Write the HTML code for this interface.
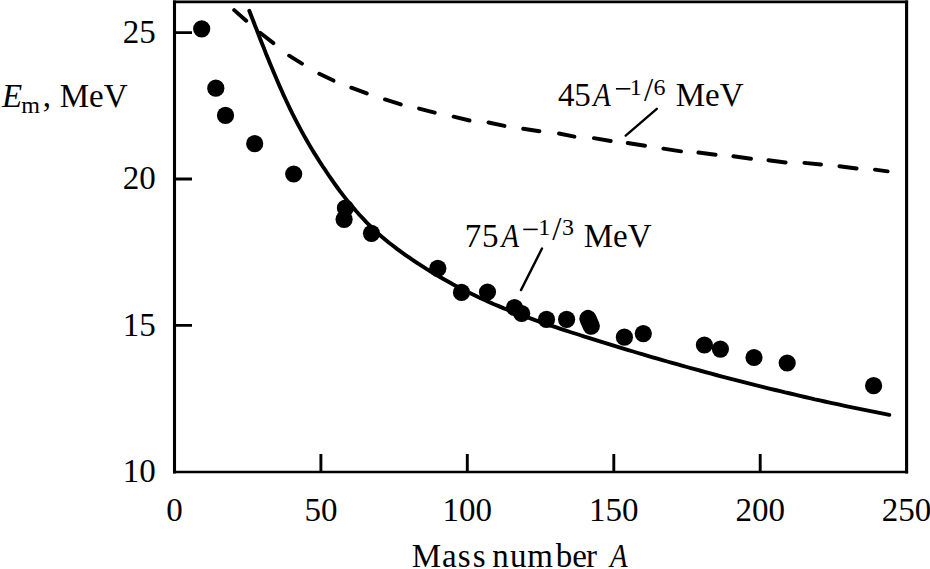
<!DOCTYPE html>
<html><head><meta charset="utf-8"><style>
html,body{margin:0;padding:0;background:#fff;overflow:hidden;}
svg{display:block;}
text{font-family:"Liberation Serif",serif;fill:#000;}
</style></head><body>
<svg width="930" height="569" viewBox="0 0 930 569">
<path d="M174.5,0.5 V473.4 M906.6,0.5999999999999999 V473.4" stroke="#000" stroke-width="3.1" fill="none"/>
<path d="M173.0,1.9 H908.1 M173.0,472.0 H908.1" stroke="#000" stroke-width="2.6" fill="none"/>
<path d="M320.9,472.0 V453.9 M467.3,472.0 V453.9 M613.8,472.0 V453.9 M760.2,472.0 V453.9 M174.5,325.4 H192.0 M174.5,179.0 H192.0 M174.5,32.6 H192.0 " stroke="#000" stroke-width="2.9" fill="none"/>
<path d="M249.3,10.8 L251.1,15.5 L253.0,20.2 L254.8,25.0 L256.7,29.7 L258.5,34.5 L260.3,39.2 L262.2,43.9 L264.1,48.6 L265.9,53.4 L267.8,58.1 L269.7,62.8 L271.7,67.5 L273.6,72.1 L275.6,76.8 L277.6,81.5 L279.6,86.1 L281.7,90.7 L283.7,95.4 L285.9,100.0 L288.0,104.5 L290.2,109.1 L292.4,113.7 L294.7,118.2 L297.0,122.7 L299.4,127.2 L301.8,131.6 L304.3,136.1 L306.8,140.5 L309.3,144.9 L311.9,149.3 L314.6,153.6 L317.3,157.9 L320.0,162.2 L322.8,166.5 L325.7,170.7 L328.5,175.0 L331.4,179.2 L334.3,183.3 L337.3,187.5 L340.3,191.6 L343.4,195.6 L346.5,199.6 L349.7,203.6 L353.0,207.4 L356.3,211.3 L359.6,215.0 L363.1,218.7 L366.5,222.4 L370.1,225.9 L373.7,229.4 L377.4,232.9 L381.2,236.2 L385.1,239.5 L389.0,242.7 L393.0,245.8 L397.0,248.9 L401.1,251.9 L405.2,254.8 L409.4,257.7 L413.6,260.6 L417.8,263.4 L422.1,266.1 L426.4,268.9 L430.7,271.5 L435.1,274.2 L439.5,276.8 L443.9,279.3 L448.4,281.8 L452.8,284.3 L457.3,286.7 L461.8,289.0 L466.4,291.3 L470.9,293.6 L475.5,295.8 L480.1,298.0 L484.7,300.1 L489.3,302.1 L494.0,304.2 L498.7,306.1 L503.3,308.1 L508.0,310.0 L512.8,311.8 L517.5,313.6 L522.2,315.4 L527.0,317.2 L531.7,318.9 L536.5,320.6 L541.3,322.3 L546.1,324.0 L550.9,325.6 L555.7,327.2 L560.5,328.8 L565.3,330.4 L570.1,332.0 L575.0,333.5 L579.8,335.0 L584.6,336.6 L589.5,338.1 L594.3,339.6 L599.1,341.1 L604.0,342.6 L608.8,344.1 L613.7,345.6 L618.5,347.1 L623.4,348.6 L628.3,350.1 L633.1,351.5 L638.0,353.0 L642.9,354.4 L647.7,355.8 L652.6,357.3 L657.5,358.7 L662.4,360.1 L667.2,361.5 L672.1,362.9 L677.0,364.2 L681.9,365.6 L686.8,367.0 L691.7,368.3 L696.6,369.7 L701.5,371.0 L706.4,372.4 L711.3,373.7 L716.2,375.0 L721.1,376.3 L726.0,377.6 L730.9,378.9 L735.8,380.1 L740.8,381.4 L745.7,382.7 L750.6,383.9 L755.5,385.2 L760.5,386.4 L765.4,387.6 L770.3,388.8 L775.3,390.0 L780.2,391.2 L785.1,392.4 L790.1,393.5 L795.0,394.7 L800.0,395.9 L804.9,397.0 L809.9,398.1 L814.8,399.3 L819.8,400.4 L824.7,401.5 L829.7,402.6 L834.6,403.6 L839.6,404.7 L844.6,405.8 L849.5,406.8 L854.5,407.9 L859.5,408.9 L864.4,409.9 L869.4,410.9 L874.4,411.9 L879.4,412.9 L884.4,413.9 L889.3,414.8" stroke="#000" stroke-width="3.9" fill="none" stroke-linecap="round" stroke-linejoin="round"/>
<path d="M234.2,10.1 L246.2,20.8 M260.1,32.8 L273.4,43.1 M289.1,55.7 L302.0,63.6 M319.3,73.8 L333.5,80.6 M351.3,87.7 L366.8,93.4 M385.0,99.4 L400.8,104.4 M419.1,108.6 L434.7,112.7 M453.6,116.7 L469.5,120.5 M488.5,122.5 L504.5,125.9 M523.2,128.7 L539.4,131.3 M559.0,133.5 L574.4,136.7 M593.9,138.1 L610.7,141.0 M627.7,143.0 L645.0,145.7 M663.4,148.6 L681.0,151.4 M698.4,152.5 L715.6,154.8 M733.4,156.2 L751.0,158.8 M768.4,160.2 L785.6,162.5 M804.4,162.9 L821.0,164.5 M839.4,166.2 L856.6,168.5 M875.0,169.6 L887.6,171.4 " stroke="#000" stroke-width="3.9" fill="none" stroke-linecap="round"/>
<path d="M625.7,135.6 L656.8,108.8 M521,290.1 L542.0,248.5" stroke="#000" stroke-width="2.4" fill="none" stroke-linecap="round"/>
<g fill="#000">
<circle cx="201.7" cy="28.8" r="8.6"/>
<circle cx="215.8" cy="88.2" r="8.6"/>
<circle cx="225.5" cy="115.4" r="8.6"/>
<circle cx="254.7" cy="143.7" r="8.6"/>
<circle cx="293.7" cy="174" r="8.6"/>
<circle cx="345.4" cy="208.1" r="8.6"/>
<circle cx="344.1" cy="219.3" r="8.6"/>
<circle cx="371.5" cy="233.3" r="8.6"/>
<circle cx="437.8" cy="268.4" r="8.6"/>
<circle cx="461.5" cy="292.4" r="8.6"/>
<circle cx="487.5" cy="292" r="8.6"/>
<circle cx="514.5" cy="307.5" r="8.6"/>
<circle cx="521.7" cy="313.5" r="8.6"/>
<circle cx="546.5" cy="319.4" r="8.6"/>
<circle cx="566.6" cy="319.4" r="8.6"/>
<circle cx="624.4" cy="337.2" r="8.6"/>
<circle cx="643.3" cy="333.6" r="8.6"/>
<circle cx="704.4" cy="345" r="8.6"/>
<circle cx="720.4" cy="349.1" r="8.6"/>
<circle cx="754" cy="357.5" r="8.6"/>
<circle cx="787.2" cy="363" r="8.6"/>
<circle cx="873.6" cy="385.7" r="8.6"/>
<path d="M587.9,318.5 L591.3,326.2" stroke="#000" stroke-width="17.2" stroke-linecap="round"/>
</g>
<g fill="#000">
<text x="174.5" y="520.8" font-size="33" text-anchor="middle">0</text>
<text x="320.9" y="520.8" font-size="33" text-anchor="middle">50</text>
<text x="467.3" y="520.8" font-size="33" text-anchor="middle">100</text>
<text x="613.8" y="520.8" font-size="33" text-anchor="middle">150</text>
<text x="760.2" y="520.8" font-size="33" text-anchor="middle">200</text>
<text x="906.6" y="520.8" font-size="33" text-anchor="middle">250</text>
<text x="155.8" y="481.9" font-size="33" text-anchor="end">10</text>
<text x="155.8" y="335.5" font-size="33" text-anchor="end">15</text>
<text x="155.8" y="189.1" font-size="33" text-anchor="end">20</text>
<text x="155.8" y="42.7" font-size="33" text-anchor="end">25</text>

<text x="411.75 441.94 457.85 472.65 484.50 492.24 510.06 527.31 555.70 572.31 585.94" y="567.2" font-size="33">Mass number</text>
<g transform="translate(618.1,0) scale(0.87,1) translate(-618.1,0)"><text x="608.87" y="567.2" font-size="33" font-style="italic">A</text></g>
<text x="1.89" y="107.3" font-size="33" font-style="italic">E</text>
<text x="21.30" y="112.6" font-size="24">m</text>
<text x="42.74" y="107.4" font-size="33">,</text>
<text x="59.65 88.99 103.64" y="107.3" font-size="33">MeV</text>
<text x="557.96 574.28" y="106.1" font-size="33">45</text>
<g transform="translate(601.2,0) scale(0.87,1) translate(-601.2,0)"><text x="591.97" y="106.1" font-size="33" font-style="italic">A</text></g>
<rect x="615.9499999999999" y="88.0" width="14.4" height="1.6"/>
<text x="629.87" y="94.7" font-size="24">1</text>
<text x="643.90" y="100.5" font-size="33">/</text>
<text x="653.57" y="94.7" font-size="24">6</text>
<text x="675.75 705.09 719.74" y="106.1" font-size="33">MeV</text>
<text x="464.82 481.88" y="246.8" font-size="33">75</text>
<g transform="translate(509.6,0) scale(0.87,1) translate(-509.6,0)"><text x="500.37" y="246.8" font-size="33" font-style="italic">A</text></g>
<rect x="523.3" y="228.6" width="14.4" height="1.6"/>
<text x="538.27" y="235.0" font-size="24">1</text>
<text x="552.30" y="239.8" font-size="33">/</text>
<text x="561.95" y="235.0" font-size="24">3</text>
<text x="583.75 613.09 627.74" y="246.8" font-size="33">MeV</text>
</g>
</svg>
</body></html>
